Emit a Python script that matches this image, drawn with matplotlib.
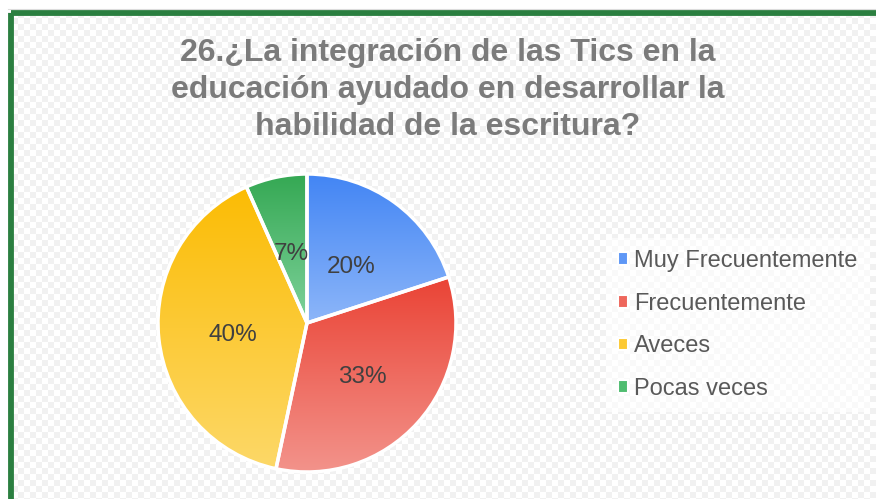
import numpy as np
import matplotlib
matplotlib.use('Agg')
import matplotlib.pyplot as plt
from matplotlib.colors import LinearSegmentedColormap
from matplotlib.patches import Patch, Rectangle

plt.rcParams['font.family'] = ['Liberation Sans', 'DejaVu Sans']

# datos
categorias = ['Muy Frecuentemente', 'Frecuentemente', 'Aveces', 'Pocas veces']
valores = [3, 5, 6, 1]
titulo = ['26.¿La integración de las Tics en la',
          'educación ayudado en desarrollar la',
          'habilidad de la escritura?']

# colores (arriba -> abajo del degradado)
grad_top = ['#4285f4', '#ea4335', '#fbbc04', '#34a853']
grad_bot = ['#8db6f9', '#f3938b', '#fdd868', '#7fd29b']
leyenda_col = ['#5e97f6', '#ee675c', '#fcc934', '#4fbd70']

W, H = 876, 499
fig = plt.figure(figsize=(W / 100, H / 100), dpi=100)

# fondo cuadriculado
bg = fig.add_axes([0, 0, 1, 1])
yy, xx = np.mgrid[0:H, 0:W]
tablero = np.where(((yy // 6) + (xx // 6)) % 2 == 0, 1.0, 0.945)
tablero[:10, :] = 1.0
tablero[:, :8] = 1.0
bg.imshow(tablero, cmap='gray', vmin=0, vmax=1, extent=[0, W, H, 0],
          aspect='auto', interpolation='nearest')
bg.set_xlim(0, W)
bg.set_ylim(H, 0)
bg.axis('off')

# borde verde
bg.plot([8, W], [8.5, 8.5], color='#dcdcdc', lw=0.8)
bg.add_patch(Rectangle((11, 12.5), W + 20, H + 20, fill=False,
                       edgecolor='#2b7f40', linewidth=4.2))

# titulo
for linea, yb in zip(titulo, [61, 98, 135]):
    bg.text(448, yb, linea, ha='center', va='baseline', fontsize=23,
            fontweight='bold', color='#7b7b7b')

# pastel
cx, cy, r = 307, 323, 149
ax = fig.add_axes([(cx - r) / W, (H - cy - r) / H, 2 * r / W, 2 * r / H])
wedges, textos, autotextos = ax.pie(
    valores, startangle=90, counterclock=False, radius=1,
    autopct='%1.0f%%', pctdistance=0.5,
    wedgeprops=dict(facecolor='none', edgecolor='white', linewidth=2.5),
    textprops=dict(fontsize=17.5, color='#404040'))

for t in autotextos:
    x, y = t.get_position()
    t.set_position((x, y - 0.028))

for w, c1, c2 in zip(wedges, grad_top, grad_bot):
    ang = np.radians(np.linspace(w.theta1, w.theta2, 200))
    ys = np.concatenate([np.sin(ang), [0]])
    cmap = LinearSegmentedColormap.from_list('g', [c1, c2])
    im = ax.imshow(np.linspace(0, 1, 256).reshape(-1, 1), cmap=cmap,
                   extent=[-1, 1, ys.min(), ys.max()], origin='upper',
                   aspect='auto', zorder=0)
    im.set_clip_path(w)

ax.set_xlim(-1, 1)
ax.set_ylim(-1, 1)
ax.axis('off')

# leyenda
handles = [Patch(facecolor=c, edgecolor='white', linewidth=1.5) for c in leyenda_col]
leg = fig.legend(handles, categorias, loc='center left',
                 bbox_to_anchor=(606 / W, 1 - 325 / H), borderaxespad=0,
                 frameon=True, fancybox=False, framealpha=0.6,
                 facecolor='white', edgecolor='none',
                 fontsize=17, handlelength=0.45, handleheight=0.45,
                 handletextpad=0.25, labelspacing=0.87, borderpad=0.5)
for t in leg.get_texts():
    t.set_color('#595959')

fig.savefig('out.png', dpi=100)
